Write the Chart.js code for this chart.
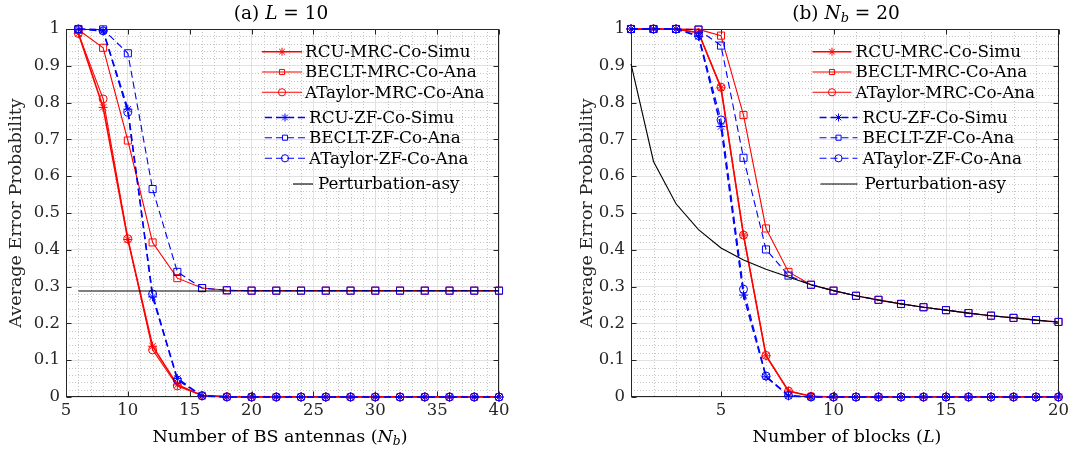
<!DOCTYPE html>
<html>
<head>
<meta charset="utf-8">
<script src="https://cdn.jsdelivr.net/npm/chart.js"></script>
<style>
  body { margin: 0; background: #fff; }
  .panel { position: absolute; top: 0; height: 453px; }
  .label {
    position: absolute;
    font-family: 'DejaVu Serif', serif;
    color: #000;
    white-space: nowrap;
    transform: translate(-50%, -50%);
    line-height: 1;
  }
  .label sub { font-size: 0.7em; vertical-align: -0.25em; line-height: 0; }
</style>
</head>
<body>
<div class="panel" style="left:0;width:536px"><canvas id="chartA" width="536" height="453"></canvas></div>
<div class="panel" style="left:536px;width:537px"><canvas id="chartB" width="537" height="453"></canvas></div>

<div class="label" style="left:281px;top:13px;font-size:18.5px">(a)&nbsp;<i>L</i> = 10</div>
<div class="label" style="left:846px;top:13px;font-size:18.5px">(b)&nbsp;<i>N<sub>b</sub></i> = 20</div>
<div class="label" style="left:280px;top:437px;font-size:17.5px">Number of BS antennas (<i>N<sub>b</sub></i>)</div>
<div class="label" style="left:847px;top:437px;font-size:17.5px">Number of blocks (<i>L</i>)</div>

<script>
// x values
const antennaCounts = [6, 8, 10, 12, 14, 16, 18, 20, 22, 24, 26, 28, 30, 32, 34, 36, 38, 40];
const blockCounts = [1, 2, 3, 4, 5, 6, 7, 8, 9, 10, 11, 12, 13, 14, 15, 16, 17, 18, 19, 20];

// tick labels
const antennaTicks = [5, 10, 15, 20, 25, 30, 35, 40];
const blockTicks = [5, 10, 15, 20];
const probTicks = [0, 0.1, 0.2, 0.3, 0.4, 0.5, 0.6, 0.7, 0.8, 0.9, 1];

const seriesNames = [
  'RCU-MRC-Co-Simu', 'BECLT-MRC-Co-Ana', 'ATaylor-MRC-Co-Ana',
  'RCU-ZF-Co-Simu', 'BECLT-ZF-Co-Ana', 'ATaylor-ZF-Co-Ana',
  'Perturbation-asy'
];

// (a) L = 10, versus number of BS antennas
const rcuMrcA      = [0.988, 0.787, 0.428, 0.138, 0.033, 0.004, 0.001, 0, 0, 0, 0, 0, 0, 0, 0, 0, 0, 0];
const becltMrcA    = [0.998, 0.949, 0.697, 0.42, 0.323, 0.296, 0.29, 0.289, 0.289, 0.289, 0.289, 0.289, 0.289, 0.289, 0.289, 0.289, 0.289, 0.289];
const ataylorMrcA  = [0.988, 0.81, 0.43, 0.128, 0.03, 0.004, 0.001, 0, 0, 0, 0, 0, 0, 0, 0, 0, 0, 0];
const rcuZfA       = [1.0, 0.995, 0.782, 0.272, 0.05, 0.003, 0, 0, 0, 0, 0, 0, 0, 0, 0, 0, 0, 0];
const becltZfA     = [1.0, 0.999, 0.934, 0.565, 0.34, 0.296, 0.29, 0.289, 0.289, 0.289, 0.289, 0.289, 0.289, 0.289, 0.289, 0.289, 0.289, 0.289];
const ataylorZfA   = [1.0, 0.995, 0.774, 0.28, 0.046, 0.003, 0, 0, 0, 0, 0, 0, 0, 0, 0, 0, 0, 0];
const perturbA     = [0.288, 0.288, 0.288, 0.288, 0.288, 0.288, 0.288, 0.288, 0.288, 0.288, 0.288, 0.288, 0.288, 0.288, 0.288, 0.288, 0.288, 0.288];

// (b) Nb = 20, versus number of blocks
const rcuMrcB      = [1, 1, 1, 0.99, 0.84, 0.44, 0.112, 0.016, 0.002, 0, 0, 0, 0, 0, 0, 0, 0, 0, 0, 0];
const becltMrcB    = [1, 1, 1, 0.999, 0.982, 0.766, 0.458, 0.34, 0.305, 0.289, 0.275, 0.264, 0.253, 0.244, 0.236, 0.228, 0.221, 0.215, 0.209, 0.204];
const ataylorMrcB  = [1, 1, 1, 0.99, 0.842, 0.44, 0.113, 0.016, 0.002, 0, 0, 0, 0, 0, 0, 0, 0, 0, 0, 0];
const rcuZfB       = [1, 1, 1, 0.98, 0.735, 0.277, 0.055, 0.003, 0, 0, 0, 0, 0, 0, 0, 0, 0, 0, 0, 0];
const becltZfB     = [1, 1, 1, 0.998, 0.955, 0.65, 0.401, 0.33, 0.305, 0.289, 0.275, 0.264, 0.253, 0.244, 0.236, 0.228, 0.221, 0.215, 0.209, 0.204];
const ataylorZfB   = [1, 1, 1, 0.982, 0.753, 0.293, 0.057, 0.004, 0, 0, 0, 0, 0, 0, 0, 0, 0, 0, 0, 0];
const perturbB     = [0.905, 0.64, 0.525, 0.455, 0.405, 0.372, 0.347, 0.326, 0.305, 0.289, 0.275, 0.263, 0.253, 0.244, 0.236, 0.228, 0.221, 0.215, 0.209, 0.203];

const FONT = "'DejaVu Serif', serif";
const RED = '#ff0000';
const BLUE = '#0000ff';
const DASH = [7, 4];

// one style per series, same order as seriesNames
const seriesStyles = [
  { color: RED,  dash: [],   marker: 'star',   width: 1.6, order: 6 },
  { color: RED,  dash: [],   marker: 'rect',   width: 1.1, order: 5 },
  { color: RED,  dash: [],   marker: 'circle', width: 1.1, order: 4 },
  { color: BLUE, dash: DASH, marker: 'star',   width: 1.6, order: 3 },
  { color: BLUE, dash: DASH, marker: 'rect',   width: 1.1, order: 2 },
  { color: BLUE, dash: DASH, marker: 'circle', width: 1.1, order: 1 },
  { color: '#000', dash: [], marker: null,     width: 1.1, order: 0 }
];
const markerRadius = { star: 4.5, rect: 5, circle: 4 };

function buildDatasets(xs, seriesList) {
  return seriesList.map((ys, i) => {
    const st = seriesStyles[i];
    return {
      label: seriesNames[i],
      data: xs.map((x, k) => ({ x: x, y: ys[k] })),
      borderColor: st.color,
      borderWidth: st.width,
      borderDash: st.dash,
      pointStyle: st.marker || false,
      pointRadius: st.marker ? markerRadius[st.marker] : 0,
      pointBorderColor: st.color,
      pointBorderWidth: 1,
      pointBackgroundColor: 'rgba(0,0,0,0)',
      tension: 0,
      clip: false,
      order: st.order
    };
  });
}

// minor dotted grid, box and inward ticks like the original figure
const boxPlugin = {
  id: 'boxPlugin',
  beforeDatasetsDraw(chart, args, opts) {
    const { ctx, chartArea: a, scales: { x, y } } = chart;
    ctx.save();
    ctx.strokeStyle = '#c6c6c6';
    ctx.lineWidth = 1;
    ctx.setLineDash([1, 2]);
    const xMajors = x.ticks.map(t => t.value);
    for (let i = 1; x.min + i * opts.xMinor < x.max - 1e-9; i++) {
      const v = x.min + i * opts.xMinor;
      if (xMajors.some(m => Math.abs(m - v) < 1e-9)) continue;
      const px = Math.round(x.getPixelForValue(v)) + 0.5;
      ctx.beginPath(); ctx.moveTo(px, a.top); ctx.lineTo(px, a.bottom); ctx.stroke();
    }
    for (let i = 1; i < 50; i++) {
      if (i % 5 === 0) continue;
      const py = Math.round(y.getPixelForValue(i * 0.02)) + 0.5;
      ctx.beginPath(); ctx.moveTo(a.left, py); ctx.lineTo(a.right, py); ctx.stroke();
    }
    ctx.setLineDash([]);
    ctx.strokeStyle = '#262626';
    const L = Math.round(a.left) + 0.5, R = Math.round(a.right) - 0.5;
    const T = Math.round(a.top) + 0.5, B = Math.round(a.bottom) - 0.5;
    ctx.strokeRect(L, T, R - L, B - T);
    ctx.beginPath();
    x.ticks.forEach(t => {
      const px = Math.round(x.getPixelForValue(t.value)) + 0.5;
      ctx.moveTo(px, B); ctx.lineTo(px, B - 5);
      ctx.moveTo(px, T); ctx.lineTo(px, T + 5);
    });
    y.ticks.forEach(t => {
      const py = Math.round(y.getPixelForValue(t.value)) + 0.5;
      ctx.moveTo(L, py); ctx.lineTo(L + 5, py);
      ctx.moveTo(R, py); ctx.lineTo(R - 5, py);
    });
    ctx.stroke();
    ctx.restore();
  }
};

function drawMarker(ctx, kind, cx, cy, r) {
  ctx.beginPath();
  if (kind === 'circle') {
    ctx.arc(cx, cy, r, 0, Math.PI * 2);
  } else if (kind === 'rect') {
    const s = r * Math.SQRT1_2;
    ctx.rect(cx - s, cy - s, 2 * s, 2 * s);
  } else if (kind === 'star') {
    for (let k = 0; k < 4; k++) {
      const ang = k * Math.PI / 4;
      ctx.moveTo(cx - Math.cos(ang) * r, cy - Math.sin(ang) * r);
      ctx.lineTo(cx + Math.cos(ang) * r, cy + Math.sin(ang) * r);
    }
  }
  ctx.stroke();
}

// legend inside the plot, with a gap between the groups
const legendPlugin = {
  id: 'boxLegend',
  afterDatasetsDraw(chart, args, opts) {
    const { ctx, chartArea: a } = chart;
    ctx.save();
    ctx.font = opts.fontSize + 'px ' + FONT;
    ctx.textBaseline = 'middle';
    ctx.fillStyle = '#000';
    chart.data.datasets.forEach((ds, i) => {
      const st = seriesStyles[i];
      const g = opts.groups[i];
      const y = a.top + opts.rows[i];
      const x0 = a.right + g.from, x1 = a.right + g.to;
      ctx.strokeStyle = st.color;
      ctx.lineWidth = st.width;
      ctx.setLineDash(st.dash);
      ctx.beginPath(); ctx.moveTo(x0, y); ctx.lineTo(x1, y); ctx.stroke();
      ctx.setLineDash([]);
      if (st.marker) {
        ctx.lineWidth = 1;
        drawMarker(ctx, st.marker, (x0 + x1) / 2, y, st.marker === 'star' ? 4 : 3.6);
      }
      ctx.fillText(ds.label, a.right + g.text, y + 1);
    });
    ctx.restore();
  }
};

function makeChart(id, xs, seriesList, xTicks, xMin, xMax, pad, yWidth, legendGroups) {
  return new Chart(document.getElementById(id), {
    type: 'line',
    data: { datasets: buildDatasets(xs, seriesList) },
    plugins: [boxPlugin, legendPlugin],
    options: {
      responsive: false,
      animation: false,
      devicePixelRatio: 1,
      layout: { padding: pad },
      plugins: {
        legend: { display: false },
        tooltip: { enabled: false },
        boxPlugin: { xMinor: 1 },
        boxLegend: {
          fontSize: 16.8,
          rows: [22.7, 43, 63.3, 88.5, 108.7, 129.3, 155],
          groups: legendGroups
        }
      },
      scales: {
        x: {
          type: 'linear',
          min: xMin,
          max: xMax,
          afterBuildTicks: s => { s.ticks = xTicks.map(v => ({ value: v })); },
          afterFit: s => { s.height = 56; },
          grid: { color: '#e2e2e2', lineWidth: 1, drawTicks: false },
          border: { display: false },
          ticks: { color: '#262626', font: { family: FONT, size: 16.5 }, padding: 4, maxRotation: 0 }
        },
        y: {
          type: 'linear',
          min: 0,
          max: 1,
          afterBuildTicks: s => { s.ticks = probTicks.map(v => ({ value: v })); },
          afterFit: s => { s.width = yWidth; },
          grid: { color: '#e2e2e2', lineWidth: 1, drawTicks: false },
          border: { display: false },
          ticks: { color: '#262626', font: { family: FONT, size: 16.5 }, padding: 6, callback: v => String(v) },
          title: {
            display: true,
            text: 'Average Error Probability',
            color: '#262626',
            font: { family: FONT, size: 17.5 },
            padding: { top: 6, bottom: 0 }
          }
        }
      }
    }
  });
}

makeChart('chartA', antennaCounts,
  [rcuMrcA, becltMrcA, ataylorMrcA, rcuZfA, becltZfA, ataylorZfA, perturbA],
  antennaTicks, 5, 40,
  { left: 0, right: 37, top: 29, bottom: 0 }, 66,
  [
    { from: -237, to: -197, text: -194 },
    { from: -237, to: -197, text: -194 },
    { from: -237, to: -197, text: -194 },
    { from: -234, to: -194, text: -190 },
    { from: -234, to: -194, text: -190 },
    { from: -234, to: -194, text: -190 },
    { from: -206, to: -186, text: -181 }
  ]);

makeChart('chartB', blockCounts,
  [rcuMrcB, becltMrcB, ataylorMrcB, rcuZfB, becltZfB, ataylorZfB, perturbB],
  blockTicks, 1, 20,
  { left: 35, right: 9, top: 29, bottom: 0 }, 60,
  [
    { from: -246, to: -207, text: -203 },
    { from: -246, to: -207, text: -203 },
    { from: -246, to: -207, text: -203 },
    { from: -239, to: -201, text: -196 },
    { from: -239, to: -201, text: -196 },
    { from: -239, to: -201, text: -196 },
    { from: -238, to: -201, text: -194 }
  ]);
</script>
</body>
</html>
